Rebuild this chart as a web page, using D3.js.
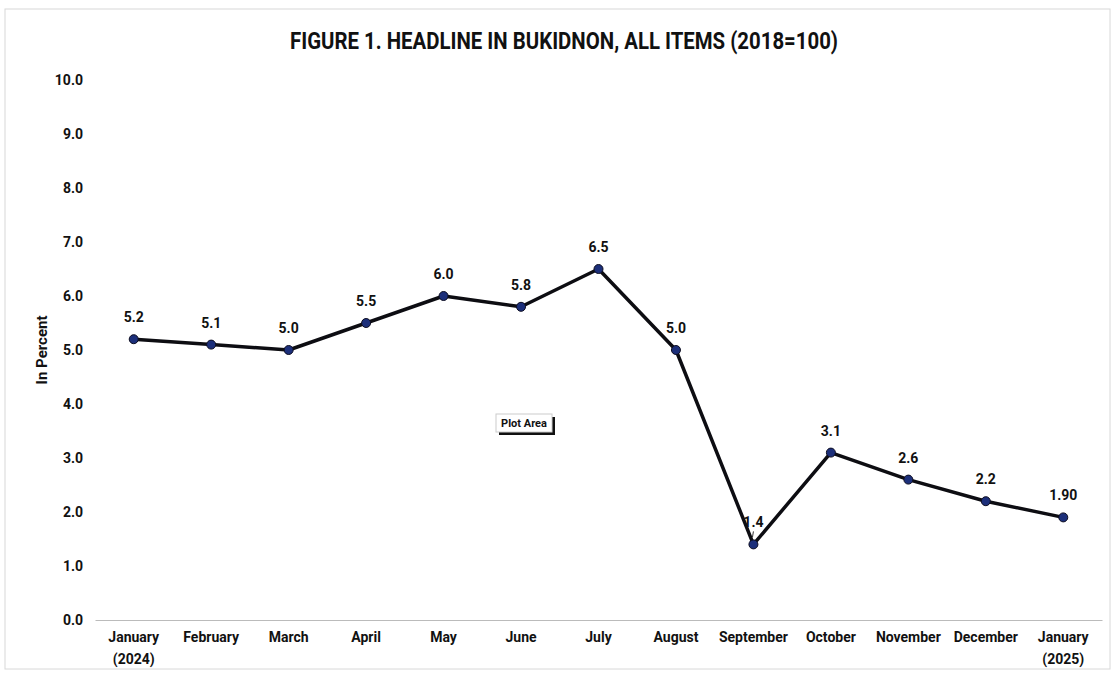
<!DOCTYPE html>
<html>
<head>
<meta charset="utf-8">
<script src="https://cdn.jsdelivr.net/npm/d3@7"></script>
<style>
  body { margin: 0; background: #fff; }
  svg text { font-family: Roboto, "Noto Sans", sans-serif; fill: #111; }
</style>
</head>
<body>
<svg></svg>
<script>
let months = ['January|(2024)', 'February', 'March', 'April', 'May', 'June', 'July',
  'August', 'September', 'October', 'November', 'December', 'January|(2025)']
let rates = [5.2, 5.1, 5.0, 5.5, 6.0, 5.8, 6.5, 5.0, 1.4, 3.1, 2.6, 2.2, 1.9]
let rateLabels = ['5.2', '5.1', '5.0', '5.5', '6.0', '5.8', '6.5', '5.0', '1.4', '3.1', '2.6', '2.2', '1.90']
let yTicks = [0, 1, 2, 3, 4, 5, 6, 7, 8, 9, 10]

let width = 1116
let height = 677
let plotLeft = 95, plotRight = 1102, plotTop = 80, plotBottom = 620

let svg = d3.select('svg').attr('width', width).attr('height', height)

// faint frame like the scanned page
svg.append('rect')
  .attr('x', 5).attr('y', 9).attr('width', 1105).attr('height', 660)
  .attr('fill', 'none').attr('stroke', '#d8d8d8').attr('stroke-width', 1)

let xScale = d3.scalePoint().domain(months).range([plotLeft, plotRight]).padding(0.5)
let yScale = d3.scaleLinear().domain([0, 10]).range([plotBottom, plotTop])

svg.append('text')
  .attr('x', 290).attr('y', 49)
  .attr('textLength', 548).attr('lengthAdjust', 'spacingAndGlyphs')
  .style('font-size', '23px').style('font-weight', 'bold')
  .text('FIGURE 1. HEADLINE IN BUKIDNON, ALL ITEMS (2018=100)')

// y axis (labels only)
let yAxis = d3.axisLeft(yScale).tickValues(yTicks).tickFormat(d3.format('.1f')).tickSize(0).tickPadding(0)
let gy = svg.append('g').attr('transform', 'translate(83,0)').call(yAxis)
gy.select('.domain').remove()
gy.selectAll('text').style('font-size', '14px').style('font-weight', 'bold')
  .style('font-family', 'Roboto, sans-serif')

// x axis baseline
let xAxis = d3.axisBottom(xScale).tickSize(0).tickFormat('')
let gx = svg.append('g').attr('transform', 'translate(0,' + plotBottom + ')').call(xAxis)
gx.select('.domain').attr('stroke', '#bbb').attr('stroke-width', 1.2)

months.forEach(m => {
  let parts = m.split('|')
  let t = svg.append('text')
    .attr('x', xScale(m)).attr('y', 642)
    .attr('text-anchor', 'middle')
    .style('font-size', '14px').style('font-weight', 'bold')
  parts.forEach((p, i) => {
    t.append('tspan').attr('x', xScale(m)).attr('dy', i === 0 ? 0 : 22).text(p)
  })
})

svg.append('text')
  .attr('transform', 'translate(47,350) rotate(-90)')
  .attr('text-anchor', 'middle')
  .style('font-size', '15px').style('font-weight', 'bold')
  .text('In Percent')

let line = d3.line().x((d, i) => xScale(months[i])).y(d => yScale(d))
svg.append('path')
  .datum(rates)
  .attr('d', line)
  .attr('fill', 'none')
  .attr('stroke', '#0d0d12')
  .attr('stroke-width', 3.5)
  .attr('stroke-linejoin', 'round')

svg.selectAll('circle.pt')
  .data(rates)
  .enter()
  .append('circle')
  .attr('class', 'pt')
  .attr('cx', (d, i) => xScale(months[i]))
  .attr('cy', d => yScale(d))
  .attr('r', 4.5)
  .attr('fill', '#1c2f7a')
  .attr('stroke', '#0d0d20')
  .attr('stroke-width', 1)

svg.selectAll('text.lbl')
  .data(rates)
  .enter()
  .append('text')
  .attr('class', 'lbl')
  .attr('x', (d, i) => xScale(months[i]))
  .attr('y', d => yScale(d) - 17)
  .attr('text-anchor', 'middle')
  .style('font-size', '14px').style('font-weight', 'bold')
  .text((d, i) => rateLabels[i])

// leader tick under the 1.4 label
svg.append('line')
  .attr('x1', xScale(months[8])).attr('x2', xScale(months[8]) - 1)
  .attr('y1', yScale(1.4) - 13).attr('y2', yScale(1.4) - 7)
  .attr('stroke', '#333').attr('stroke-width', 1)

// "Plot Area" tooltip artifact
let tip = svg.append('g').attr('transform', 'translate(496,414)')
tip.append('rect').attr('x', 3).attr('y', 3).attr('width', 56).attr('height', 18).attr('fill', '#111')
tip.append('rect').attr('width', 56).attr('height', 18).attr('fill', '#fff').attr('stroke', '#ccc')
tip.append('text').attr('x', 28).attr('y', 13).attr('text-anchor', 'middle')
  .style('font-size', '11px').style('font-weight', 'bold').text('Plot Area')
</script>
</body>
</html>
